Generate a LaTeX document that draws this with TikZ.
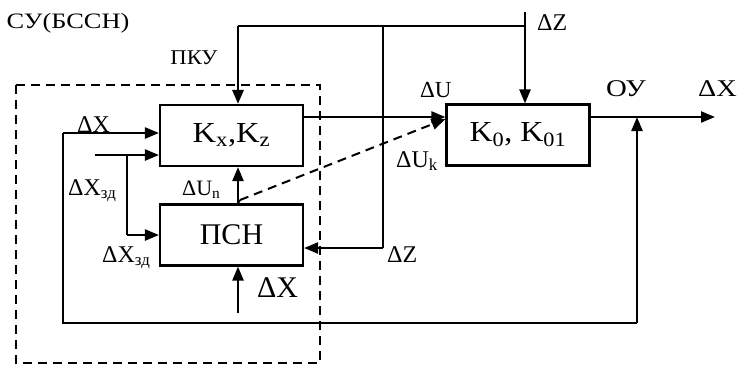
\documentclass[tikz,border=0pt]{standalone}
\usepackage{fontspec}
\setmainfont{Liberation Serif}
\usetikzlibrary{arrows.meta}
\begin{document}
\begin{tikzpicture}[x=1pt,y=-1pt,
  blk/.style={draw,line width=2.1pt,minimum width=143pt,minimum height=61pt,inner sep=0pt,font=\fontsize{29}{32}\selectfont},
  arr/.style={line width=2.3pt,-{Triangle[length=14pt,width=11pt]}},
  ln/.style={line width=1.8pt},
  lbl/.style={inner sep=0pt,anchor=base west,font=\fontsize{24}{28}\selectfont},
  dsh/.style={line width=2pt,dash pattern=on 9pt off 6pt},
]
\useasboundingbox (0,0) rectangle (738,368);
% blocks
\node[blk] (kx) at (231.5,135.5) {\scalebox{1.12}[1]{K\textsubscript{x},K\textsubscript{z}}};
\node[blk,font=\fontsize{30}{34}\selectfont] (psn) at (231.5,235) {ПСН};
\node[blk] (k0) at (518,135) {\scalebox{1.1}[1]{K\textsubscript{0}, K\textsubscript{01}}};
% dashed frame
\draw[dsh] (16,85) rectangle (320,363);
% coordinates
\coordinate (tl) at (238,26);
\coordinate (tr) at (525,26);
\coordinate (zt) at (525,12);
\coordinate (tm) at (383,26);
\coordinate (zb) at (383,248);
\coordinate (u) at (0,117);
\coordinate (out) at (715,117);
\coordinate (fb) at (637,117);
\coordinate (fbb) at (637,323);
\coordinate (lb) at (63,323);
\coordinate (in1) at (63,133);
\coordinate (in2) at (95,155);
\coordinate (br) at (127,155);
\coordinate (brb) at (127,235);
\coordinate (dx) at (238,313);
\coordinate (ds) at (240,200);
\coordinate (dk) at (447,119);
% connectors
\draw[ln] (tl) -- (tr);
\draw[arr,line width=2.8pt] (tl) -- (kx.north -| tl);
\draw[arr] (zt) -- (k0.north -| zt);
\draw[ln] (tm) -- (zb);
\draw[arr] (zb) -- (psn.east |- zb);
\draw[arr] (kx.east |- u) -- (k0.west |- u);
\draw[arr] (k0.east |- out) -- (out);
\draw[arr] (fbb) -- (fb);
\draw[ln] (in1) -- (lb) -- (fbb);
\draw[arr] (in1) -- (kx.west |- in1);
\draw[arr] (in2) -- (kx.west |- in2);
\draw[ln] (br) -- (brb);
\draw[arr] (brb) -- (psn.west |- brb);
\draw[arr] (dx) -- (psn.south -| dx);
\draw[arr] (psn.north -| dx) -- (kx.south -| dx);
\draw[ln] (psn.north -| dx) -- (ds);
\draw[arr,dsh] (ds) -- (k0.west |- dk);
% labels
\node[inner sep=0pt,font=\fontsize{22}{26}\selectfont] (su) at (68,23) {\scalebox{1.2}[1]{СУ(БССН)}};
\node[inner sep=0pt,font=\fontsize{21}{25}\selectfont] (pku) at (194,58) {\scalebox{1.08}[1]{ПКУ}};
\node[lbl] (dz1) at (537,30) {ΔZ};
\node[lbl] (dxa) at (77,132) {ΔX};
\node[lbl] (dxz1) at (68,195) {ΔX\textsubscript{зд}};
\node[lbl] (dxz2) at (102,262) {ΔX\textsubscript{зд}};
\node[lbl,font=\fontsize{22}{26}\selectfont] (dun) at (182,195) {ΔU\textsubscript{n}};
\node[lbl,font=\fontsize{23}{26}\selectfont] (du) at (420,97) {ΔU};
\node[lbl] (duk) at (396,167) {ΔU\textsubscript{k}};
\node[lbl] (dz2) at (387,262) {ΔZ};
\node[lbl] (oy) at (606,96) {\scalebox{1.2}[1]{ОУ}};
\node[lbl] (dxo) at (698,96) {\scalebox{1.18}[1]{ΔX}};
\node[lbl,font=\fontsize{30}{34}\selectfont] (dxb) at (257,297) {ΔX};
\end{tikzpicture}
\end{document}
